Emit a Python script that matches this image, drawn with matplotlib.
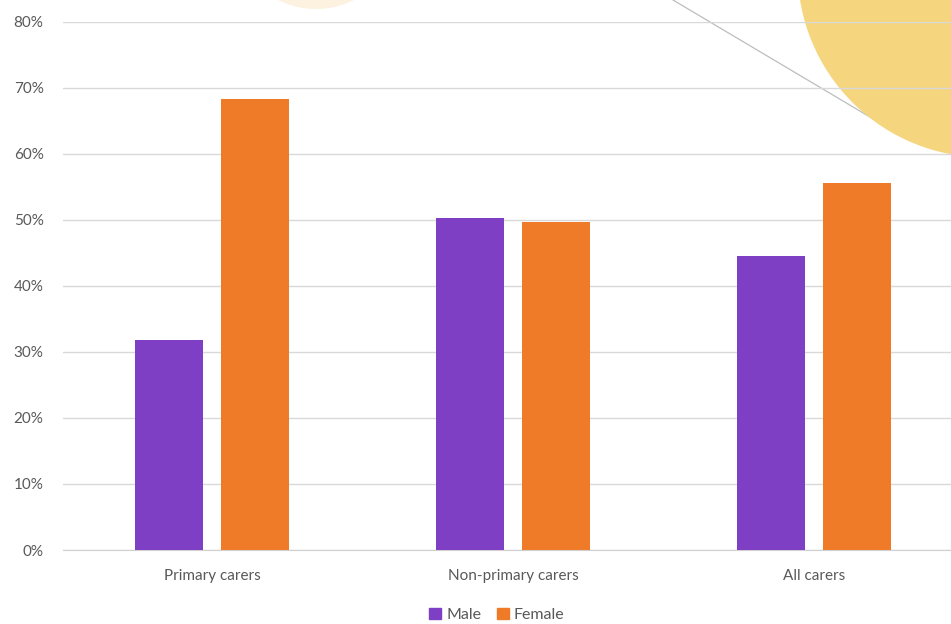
import numpy as np
import matplotlib
matplotlib.use("Agg")
import matplotlib.pyplot as plt
from matplotlib.patches import Circle, Patch
from matplotlib.ticker import PercentFormatter

categories = ["Primary carers", "Non-primary carers", "All carers"]
male = [31.8, 50.3, 44.5]
female = [68.2, 49.7, 55.5]
yticks = [0, 10, 20, 30, 40, 50, 60, 70, 80]

PURPLE = "#7E3FC4"
ORANGE = "#EF7A28"
TEXT = "#595959"

plt.rcParams['font.family'] = ['Lato', 'DejaVu Sans']

W, H = 951, 624
fig = plt.figure(figsize=(W / 100, H / 100), dpi=100)

# background decoration in pixel units
bg = fig.add_axes([0, 0, 1, 1], zorder=0)
bg.set_xlim(0, W)
bg.set_ylim(H, 0)
bg.axis("off")
bg.plot([673, 880], [0, 123], color="#BDBDBD", lw=0.9, zorder=1)
bg.add_patch(Circle((985, -30), 187.4, color="#F5D67F", lw=0, zorder=2))
bg.add_patch(Circle((316, -75), 84, color="#FDF1DF", lw=0))

ax = fig.add_axes([63 / W, (H - 550) / H, (W - 63) / W, (550 - 21.5) / H], zorder=1)
ax.patch.set_alpha(0)

x = np.arange(len(categories))
bw = 0.226
ax.bar(x - 0.143, male, bw, color=PURPLE, zorder=3)
ax.bar(x + 0.143, female, bw, color=ORANGE, zorder=3)

ax.set_xlim(-0.495, 2.455)
ax.set_ylim(0, 80)
ax.set_yticks(yticks)
ax.yaxis.set_major_formatter(PercentFormatter(decimals=0))
ax.set_xticks(x)
ax.set_xticklabels(categories)
ax.grid(axis="y", color="#D9D9D9", lw=1, zorder=0)
for s in ax.spines.values():
    s.set_visible(False)
ax.spines["bottom"].set_visible(True)
ax.spines["bottom"].set_color("#D0D0D0")
ax.tick_params(length=0, colors=TEXT, labelsize=11)
ax.tick_params(axis="y", pad=14)
ax.tick_params(axis="x", pad=14)

handles = [Patch(color=PURPLE, label="Male"), Patch(color=ORANGE, label="Female")]
fig.legend(handles=handles, loc="center", bbox_to_anchor=(497 / W, 1 - 615 / H),
           ncol=2, frameon=False, fontsize=11.5, labelcolor=TEXT,
           handlelength=0.75, handleheight=0.75, handletextpad=0.3, columnspacing=1.0)

fig.savefig("out.png", dpi=100)
